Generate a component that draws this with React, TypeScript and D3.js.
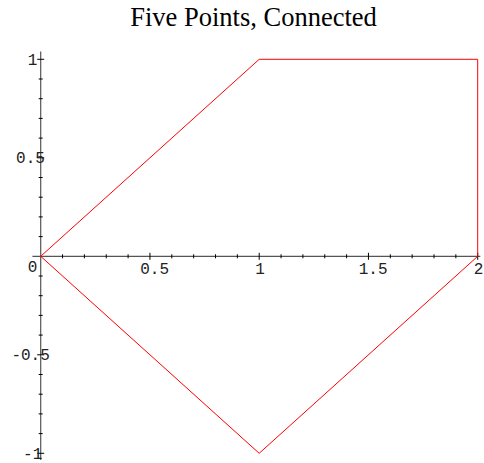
import React from "react";
import * as d3 from "d3";

// Vertices of the closed path, in drawing order
const pointsX = [0, 1, 2, 2, 1, 0];
const pointsY = [0, 1, 1, 0, -1, 0];

// Axis ticks
const xMajorTicks = [0.5, 1, 1.5, 2];
const xTickLabels = ["0.5", "1", "1.5", "2"];
const yMajorTicks = [1, 0.5, -0.5, -1];
const yTickLabels = ["1", "0.5", "-0.5", "-1"];
const originLabel = "0";
const title = "Five Points, Connected";

const W = 484;
const H = 463;

// Label placement uses proportional (Helvetica-like) widths at 14px,
// while the glyphs are drawn in a monospace face.
const charW: Record<string, number> = { "-": 0.333, ".": 0.278 };
const estWidth = (s: string) =>
  s.split("").reduce((a, c) => a + (charW[c] ?? 0.556) * 14, 0);

export default function App() {
  const x = d3.scaleLinear().domain([0, 2]).range([40.7, 477.7]);
  const y = d3.scaleLinear().domain([-1, 1]).range([453.3, 59.3]);

  const line = d3
    .line<number>()
    .x((_, i) => x(pointsX[i]))
    .y((_, i) => y(pointsY[i]));

  const x0 = x(0);
  const y0 = y(0);

  const xMinor = d3.range(1, 21).map((k) => k / 10).filter((v) => Math.abs(v * 2 - Math.round(v * 2)) > 1e-6);
  const yMinor = d3.range(-10, 11).map((k) => k / 10).filter((v) => Math.abs(v * 2 - Math.round(v * 2)) > 1e-6);

  const labelFont = "'Liberation Mono', 'DejaVu Sans Mono', monospace";

  return (
    <svg
      width={W}
      height={H}
      style={{ position: "absolute", left: 0, top: 0, background: "#fff" }}
    >
      <rect width={W} height={H} fill="#fff" />
      <text
        x={253.5}
        y={26}
        textAnchor="middle"
        fontFamily="'Liberation Serif', 'Times New Roman', serif"
        fontSize={26.5}
        fill="#000"
      >
        {title}
      </text>

      {/* axes */}
      <line x1={x(-0.038)} x2={x(2.012)} y1={y0} y2={y0} stroke="#555" strokeWidth={1.2} />
      <line x1={x0} x2={x0} y1={y(1.039)} y2={y(-1.034)} stroke="#555" strokeWidth={1.2} />

      {/* x ticks */}
      {xMinor.map((v) => (
        <line key={"xm" + v} x1={x(v)} x2={x(v)} y1={y0 - 2} y2={y0 + 2} stroke="#000" strokeWidth={1} />
      ))}
      {xMajorTicks.map((v) => (
        <line key={"xM" + v} x1={x(v)} x2={x(v)} y1={y0 - 3.5} y2={y0 + 3.5} stroke="#000" strokeWidth={1} />
      ))}
      {/* y ticks */}
      {yMinor.map((v) => (
        <line key={"ym" + v} x1={x0 - 2} x2={x0 + 2} y1={y(v)} y2={y(v)} stroke="#000" strokeWidth={1} />
      ))}
      {yMajorTicks.map((v) => (
        <line key={"yM" + v} x1={x0 - 3.5} x2={x0 + 3.5} y1={y(v)} y2={y(v)} stroke="#000" strokeWidth={1} />
      ))}

      {/* tick labels */}
      <g fontFamily={labelFont} fontSize={16} fill="#222">
        {xMajorTicks.map((v, i) => (
          <text key={"xl" + v} x={x(v) - estWidth(xTickLabels[i]) / 2} y={y0 + 17.5}>
            {xTickLabels[i]}
          </text>
        ))}
        {yMajorTicks.map((v, i) => (
          <text key={"yl" + v} x={x0 - 5.2 - estWidth(yTickLabels[i])} y={y(v) + 5.3}>
            {yTickLabels[i]}
          </text>
        ))}
        <text x={x0 - 5.2 - estWidth(originLabel)} y={y0 + 15.5}>
          {originLabel}
        </text>
      </g>

      <path d={line(pointsX) ?? ""} fill="none" stroke="#ff0000" strokeWidth={1} />
    </svg>
  );
}
